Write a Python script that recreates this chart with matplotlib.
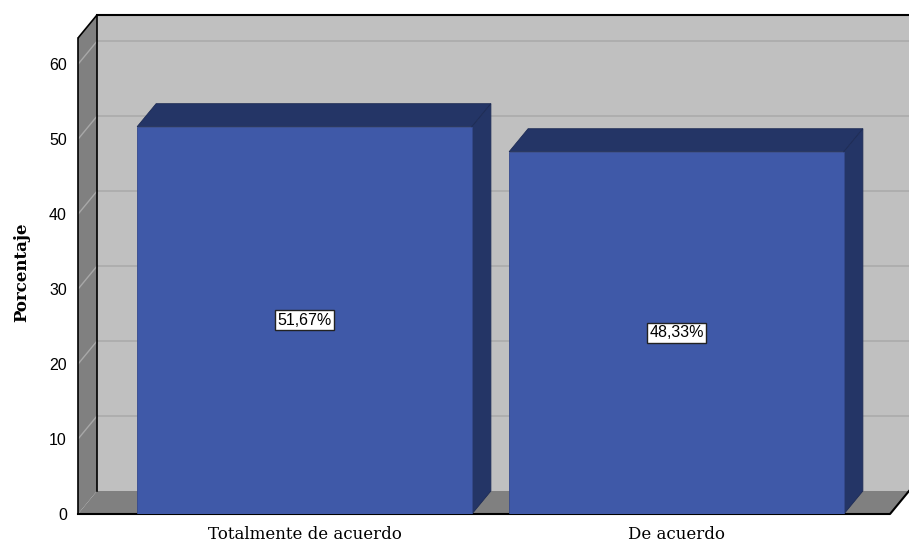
import matplotlib.pyplot as plt
from matplotlib.patches import Polygon, Rectangle

# data
categories = ['Totalmente de acuerdo', 'De acuerdo']
percentages = [51.67, 48.33]
labels = ['51,67%', '48,33%']
yticks = [0, 10, 20, 30, 40, 50, 60]

front_color = '#3F59A8'
dark_color = '#243566'
wall_color = '#C0C0C0'
side_color = '#808080'

# 3D box geometry (data units)
x_left, x_right = -0.609, 1.574
y_top = 63.5
dx, dy = 0.051, 3.07
bar_w = 0.9

fig = plt.figure(figsize=(9.09, 5.42), dpi=100)
ax = fig.add_axes([78 / 909, 28 / 542, 831 / 909, 499 / 542])
ax.set_xlim(x_left, x_right + dx)
ax.set_ylim(0, y_top + dy)
for s in ax.spines.values():
    s.set_visible(False)
ax.set_xticks([])
ax.set_yticks(yticks)
ax.set_yticklabels([str(t) for t in yticks], fontfamily='Liberation Sans', fontsize=11.5)
ax.tick_params(axis='y', length=0, pad=8)

# back wall
ax.add_patch(Rectangle((x_left + dx, dy), x_right - x_left, y_top, facecolor=wall_color,
                       edgecolor='none', zorder=0))
# left wall
ax.add_patch(Polygon([(x_left, 0), (x_left + dx, dy), (x_left + dx, y_top + dy), (x_left, y_top)],
                     closed=True, facecolor=side_color, edgecolor='none', zorder=1))
# floor
ax.add_patch(Polygon([(x_left, 0), (x_right, 0), (x_right + dx, dy), (x_left + dx, dy)],
                     closed=True, facecolor=side_color, edgecolor='none', zorder=1))

# gridlines
for t in yticks[1:]:
    ax.plot([x_left + dx, x_right + dx], [t + dy, t + dy], color='#ABABAB', lw=1.2, zorder=0.5)
    ax.plot([x_left, x_left + dx], [t, t + dy], color='#A8A8A8', lw=1.0, zorder=1.5)

# outlines
ax.plot([x_left, x_left], [0, y_top], color='black', lw=1.2, zorder=2, clip_on=False)
ax.plot([x_left + dx, x_left + dx], [dy, y_top + dy], color='black', lw=1.2, zorder=2)
ax.plot([x_left, x_left + dx], [y_top, y_top + dy], color='black', lw=1.2, zorder=2)
ax.plot([x_left + dx, x_right + dx], [y_top + dy, y_top + dy], color='black', lw=1.5, zorder=2,
        clip_on=False)
ax.plot([x_left, x_right, x_right + dx], [0, 0, dy], color='black', lw=1.5, zorder=2,
        clip_on=False)

# bars
for i, v in enumerate(percentages):
    x0 = i - bar_w / 2
    x1 = i + bar_w / 2
    ax.add_patch(Polygon([(x0, v), (x0 + dx, v + dy), (x1 + dx, v + dy), (x1, v)],
                         closed=True, facecolor=dark_color, edgecolor='#1E2C55', lw=0.6, zorder=3))
    ax.add_patch(Polygon([(x1, 0), (x1 + dx, dy), (x1 + dx, v + dy), (x1, v)],
                         closed=True, facecolor=dark_color, edgecolor='#1E2C55', lw=0.6, zorder=3))
    ax.add_patch(Rectangle((x0, 0), bar_w, v, facecolor=front_color, edgecolor='#34498C',
                           lw=0.6, zorder=4))
    ax.text(i, v / 2, labels[i], ha='center', va='center', fontfamily='Liberation Sans',
            fontsize=11.5, zorder=5,
            bbox=dict(boxstyle='square,pad=0.15', facecolor='white', edgecolor='#222222', lw=1))
    ax.text(i, -1.6, categories[i], ha='center', va='top', fontfamily='DejaVu Serif',
            fontsize=12, clip_on=False)

fig.text(22 / 909, 1 - 272 / 542, 'Porcentaje', rotation=90, ha='center', va='center',
         fontfamily='DejaVu Serif', fontweight='bold', fontsize=12)

fig.savefig('out.png', dpi=100)
